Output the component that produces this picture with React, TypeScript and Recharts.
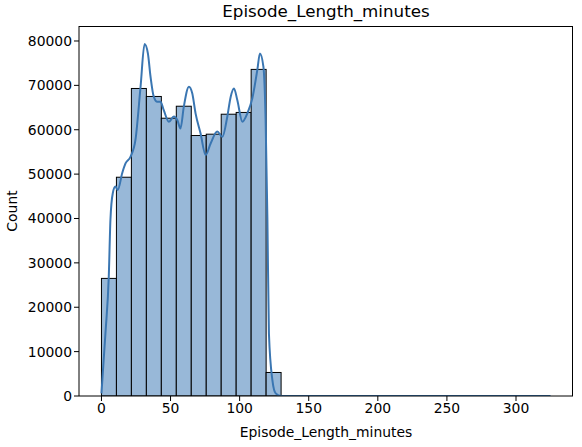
import { ComposedChart, Bar, Line, XAxis, YAxis, Label } from 'recharts';

// histogram bins (30 bins of width 325/30 over 0..325)
const binWidth = 325 / 30;
const binCounts = [
  26500, 49300, 69300, 67500, 62600, 65300, 58700, 59000, 63500, 63900, 73600, 5300,
  0, 0, 0, 0, 0, 0, 0, 0, 0, 0, 0, 0, 0, 0, 0, 0, 0, 0,
];

// kde curve (x minutes, y scaled count)
const kdeX = [
  0, 2.9, 5.3, 6.5, 8.2, 10.1, 11.8, 15, 17.4, 21, 24.6, 28.3, 31.2, 33.6, 35.5, 37.9,
  40.4, 42.8, 45.1, 48.8, 52.4, 54.9, 57.2, 59.6, 63.3, 65.7, 68.1, 71.7, 75.4, 79,
  83.8, 87.5, 91.1, 93.5, 95.9, 98.3, 102, 105.6, 109.2, 112.8, 114.7, 117.2, 118.8,
  120.1, 121.2, 123.7, 126.1, 130, 150, 200, 250, 300, 325,
];
const kdeY = [
  600, 14200, 26900, 39700, 45700, 47200, 46400, 50200, 52400, 53900, 57700, 69700,
  79300, 77200, 72000, 67400, 66300, 66300, 64400, 61800, 63000, 62200, 60300, 65200,
  69700, 68200, 63700, 59200, 54300, 56900, 59600, 58400, 63000, 67400, 69300, 66700,
  61800, 63700, 67100, 73500, 77200, 74200, 62200, 39700, 14100, 3600, 600, 0, 0, 0,
  0, 0, 0,
];

const xTicks = [0, 50, 100, 150, 200, 250, 300];
const yTicks = [0, 10000, 20000, 30000, 40000, 50000, 60000, 70000, 80000];

const bins = binCounts.map((count, i) => ({ x: (i + 0.5) * binWidth, count }));
const kde = kdeX.map((x, i) => ({ x, kde: kdeY[i] }));

const FONT = 'DejaVu Sans, sans-serif';
const xDomain: [number, number] = [-16.25, 341.25];
const plotW = 494;
// bar width in px = bin width scaled to the plot
const barPx = (plotW / (xDomain[1] - xDomain[0])) * binWidth;

// recharts squeezes bars on a number axis, so widen each bar around its centre
const BinRect = (props: any) => {
  const { x, y, width, height } = props;
  if (height == null || height <= 0) return <g />;
  const cx = x + width / 2;
  return (
    <rect x={cx - barPx / 2} y={y} width={barPx} height={height} fill="#98b8d8" stroke="#000" strokeWidth={1} />
  );
};

export default function App() {
  return (
    <div style={{ position: 'absolute', left: 0, top: 0, width: 582, height: 447, background: '#fff' }}>
      <div
        style={{
          position: 'absolute',
          top: 1,
          left: 79,
          width: plotW,
          textAlign: 'center',
          fontFamily: FONT,
          fontSize: 16.7,
          color: '#000',
        }}
      >
        Episode_Length_minutes
      </div>
      <ComposedChart
        width={582}
        height={447}
        data={bins}
        margin={{ top: 26, right: 9, left: 0, bottom: 0 }}
        barCategoryGap={0}
        barGap={0}
      >
        <XAxis
          dataKey="x"
          type="number"
          domain={xDomain}
          ticks={xTicks}
          height={51}
          stroke="#000"
          tickSize={5}
          tick={{ fill: '#000', fontSize: 13.9, fontFamily: FONT }}
          allowDataOverflow
        >
          <Label value="Episode_Length_minutes" position="insideBottom" offset={10} fill="#000" fontSize={13.9} fontFamily={FONT} />
        </XAxis>
        <YAxis
          type="number"
          domain={[0, 83380]}
          ticks={yTicks}
          width={79}
          stroke="#000"
          tickSize={5}
          tick={{ fill: '#000', fontSize: 13.9, fontFamily: FONT }}
          allowDataOverflow
        >
          <Label value="Count" angle={-90} position="insideLeft" offset={12} fill="#000" fontSize={13.9} fontFamily={FONT} style={{ textAnchor: 'middle' }} />
        </YAxis>
        <Bar dataKey="count" shape={BinRect} isAnimationActive={false} />
        <Line
          data={kde}
          dataKey="kde"
          type="monotone"
          stroke="#3a76b2"
          strokeWidth={2}
          dot={false}
          isAnimationActive={false}
        />
      </ComposedChart>
      <div
        style={{
          position: 'absolute',
          left: 79,
          top: 26,
          width: plotW,
          height: 370,
          boxSizing: 'border-box',
          borderTop: '1px solid #000',
          borderRight: '1px solid #000',
          pointerEvents: 'none',
        }}
      />
    </div>
  );
}
